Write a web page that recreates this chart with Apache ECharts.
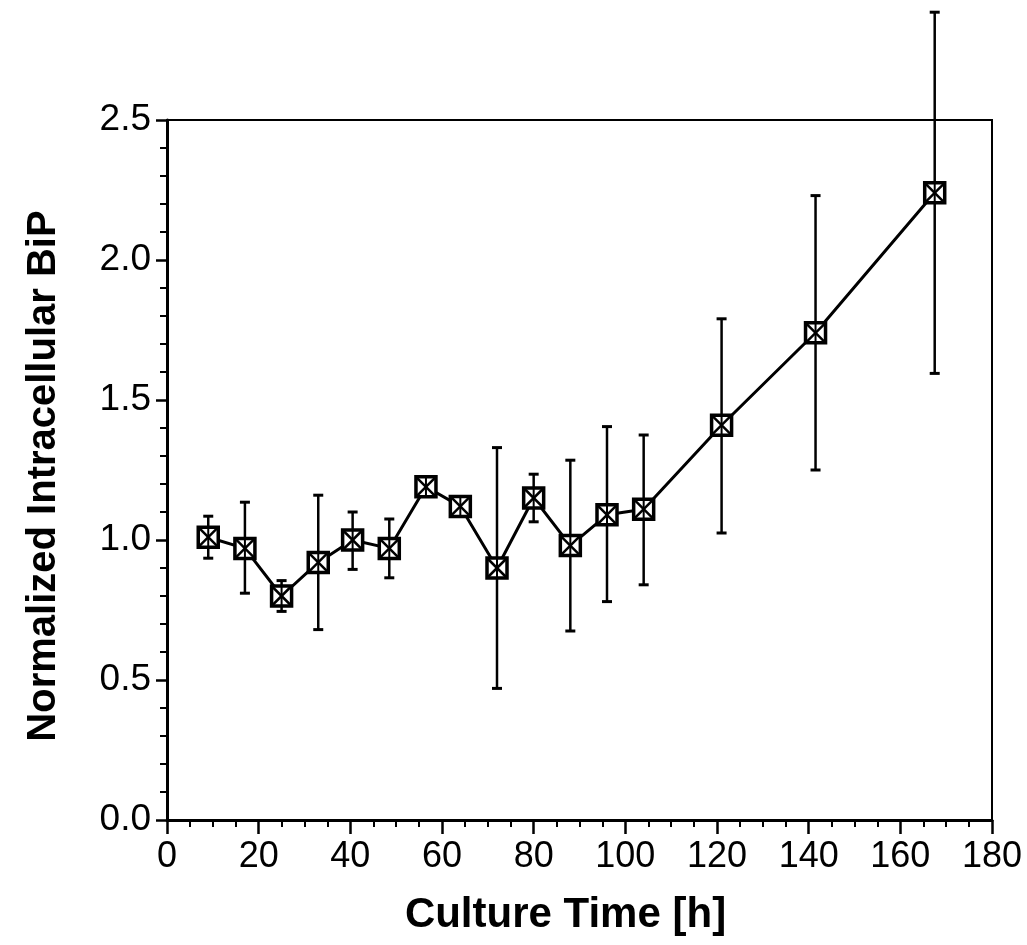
<!DOCTYPE html>
<html>
<head>
<meta charset="utf-8">
<script src="https://cdn.jsdelivr.net/npm/echarts@6/dist/echarts.min.js"></script>
<style>
html,body{margin:0;padding:0;background:#fff;}
#chart{width:1027px;height:945px;}
</style>
</head>
<body>
<div id="chart"></div>
<script>
// Culture time [h]
var times = [9, 17, 25, 33, 40.5, 48.5, 56.5, 64, 72, 80, 88, 96, 104, 121, 141.5, 167.5];
// Normalized intracellular BiP (mean)
var means = [1.01, 0.97, 0.80, 0.92, 1.00, 0.97, 1.19, 1.12, 0.90, 1.15, 0.98, 1.09, 1.11, 1.41, 1.74, 2.24];
// Error bar upper / lower ends
var upper = [1.085, 1.135, 0.855, 1.16, 1.10, 1.075, 1.21, 1.14, 1.33, 1.235, 1.285, 1.405, 1.375, 1.79, 2.23, 2.885];
var lower = [0.935, 0.81, 0.745, 0.68, 0.895, 0.865, 1.17, 1.10, 0.47, 1.065, 0.675, 0.78, 0.84, 1.025, 1.25, 1.595];
var xTicks = [0, 20, 40, 60, 80, 100, 120, 140, 160, 180];
var yTicks = [0.0, 0.5, 1.0, 1.5, 2.0, 2.5];

var lineData = times.map(function (t, i) { return [t, means[i]]; });
var errData = times.map(function (t, i) { return [t, means[i], lower[i], upper[i]]; });

var chart = echarts.init(document.getElementById('chart'), null, {renderer: 'canvas'});
var FONT = '"Liberation Sans", Arial, Helvetica, sans-serif';

chart.setOption({
  backgroundColor: '#ffffff',
  animation: false,
  grid: {
    left: 167, right: 35, top: 120, bottom: 125,
    show: true, borderColor: '#000', borderWidth: 2, backgroundColor: 'transparent'
  },
  xAxis: {
    type: 'value', min: xTicks[0], max: xTicks[xTicks.length - 1], interval: 20,
    name: 'Culture Time [h]', nameLocation: 'middle', nameGap: 74,
    nameTextStyle: {fontFamily: FONT, fontWeight: 'bold', fontSize: 42, color: '#000', padding: [0, 28, 0, 0]},
    axisLine: {show: true, lineStyle: {color: '#000', width: 3}},
    axisTick: {show: true, length: 14, lineStyle: {color: '#000', width: 2.5}},
    minorTick: {show: true, splitNumber: 4, length: 7, lineStyle: {color: '#000', width: 2}},
    splitLine: {show: false},
    axisLabel: {fontFamily: FONT, fontSize: 36, color: '#000', margin: 19}
  },
  yAxis: {
    type: 'value', min: yTicks[0], max: yTicks[yTicks.length - 1], interval: 0.5,
    name: 'Normalized Intracellular BiP', nameLocation: 'middle', nameGap: 103,
    nameTextStyle: {fontFamily: FONT, fontWeight: 'bold', fontSize: 40, color: '#000', padding: [0, 12, 0, 0]},
    axisLine: {show: true, lineStyle: {color: '#000', width: 3}},
    axisTick: {show: true, length: 11, lineStyle: {color: '#000', width: 2.5}},
    minorTick: {show: true, splitNumber: 5, length: 7, lineStyle: {color: '#000', width: 2}},
    splitLine: {show: false},
    axisLabel: {fontFamily: FONT, fontSize: 37, color: '#000', margin: 16,
      formatter: function (v) { return v.toFixed(1); }}
  },
  series: [
    {
      type: 'line',
      data: lineData,
      symbol: 'none',
      lineStyle: {color: '#000', width: 3},
      z: 2
    },
    {
      type: 'custom',
      data: errData,
      clip: false,
      z: 3,
      encode: {x: 0, y: [1, 2, 3]},
      renderItem: function (params, api) {
        var x = api.value(0);
        var c = api.coord([x, api.value(1)]);
        var lo = api.coord([x, api.value(2)]);
        var hi = api.coord([x, api.value(3)]);
        var cap = 5;
        var s = 10;
        var st = {stroke: '#000', lineWidth: 2.5};
        return {
          type: 'group',
          children: [
            {type: 'line', shape: {x1: c[0], y1: lo[1], x2: c[0], y2: hi[1]}, style: st},
            {type: 'line', shape: {x1: c[0] - cap, y1: lo[1], x2: c[0] + cap, y2: lo[1]}, style: {stroke: '#000', lineWidth: 3}},
            {type: 'line', shape: {x1: c[0] - cap, y1: hi[1], x2: c[0] + cap, y2: hi[1]}, style: {stroke: '#000', lineWidth: 3}},
            {type: 'rect', shape: {x: c[0] - s, y: c[1] - s, width: 2 * s, height: 2 * s},
              style: {fill: '#fff', stroke: '#000', lineWidth: 3.5}},
            {type: 'line', shape: {x1: c[0] - s, y1: c[1] - s, x2: c[0] + s, y2: c[1] + s}, style: {stroke: '#000', lineWidth: 2.5}},
            {type: 'line', shape: {x1: c[0] - s, y1: c[1] + s, x2: c[0] + s, y2: c[1] - s}, style: {stroke: '#000', lineWidth: 2.5}},
            {type: 'line', shape: {x1: c[0], y1: c[1] - s, x2: c[0], y2: c[1] + s}, style: {stroke: '#000', lineWidth: 2}}
          ]
        };
      }
    }
  ]
});
</script>
</body>
</html>
